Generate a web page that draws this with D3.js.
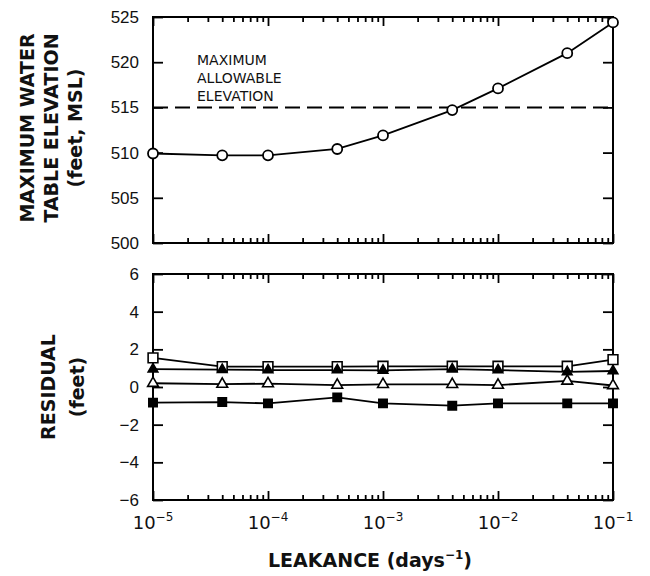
<!DOCTYPE html>
<html>
<head>
<meta charset="utf-8">
<script src="https://cdn.jsdelivr.net/npm/d3@7"></script>
<style>
  body { margin: 0; background: #fff; }
  svg { font-family: "DejaVu Sans", Verdana, sans-serif; }
</style>
</head>
<body>
<svg id="chart" width="650" height="576"></svg>
<script>
// leakance values (days^-1) at which the model was run
var leakance = [1e-5, 4e-5, 1e-4, 4e-4, 1e-3, 4e-3, 1e-2, 4e-2, 1e-1];
var xTicks = [1e-5, 1e-4, 1e-3, 1e-2, 1e-1];
var xExponents = ["\u22125", "\u22124", "\u22123", "\u22122", "\u22121"];

// top panel
var maxElevation = [509.9, 509.7, 509.7, 510.4, 511.9, 514.7, 517.1, 521.0, 524.4];
var allowableElevation = 515;
var elevTicks = [500, 505, 510, 515, 520, 525];

// bottom panel residuals
var residOpenSquare = [1.55, 1.08, 1.08, 1.08, 1.1, 1.1, 1.1, 1.1, 1.45];
var residFilledTriangle = [0.95, 0.92, 0.9, 0.9, 0.88, 0.95, 0.9, 0.8, 0.85];
var residOpenTriangle = [0.2, 0.15, 0.18, 0.1, 0.14, 0.14, 0.1, 0.32, 0.08];
var residFilledSquare = [-0.83, -0.8, -0.87, -0.55, -0.87, -0.99, -0.87, -0.87, -0.87];
var residTicks = [-6, -4, -2, 0, 2, 4, 6];

var left = 153, right = 613;
var svg = d3.select("#chart");

var x = d3.scaleLog().domain([1e-5, 1e-1]).range([left, right]);

var minorTicks = [];
xTicks.slice(0, -1).forEach(function(t) {
  for (var k = 2; k <= 9; k++) minorTicks.push(t * k);
});

function frame(top, bottom, y, yTickVals) {
  var g = svg.append("g");

  // y axes, ticks pointing in
  var yl = g.append("g")
    .attr("transform", "translate(" + left + ",0)")
    .call(d3.axisLeft(y).tickValues(yTickVals).tickSize(-10).tickPadding(14)
      .tickFormat(function(d) { return d < 0 ? "\u2212" + Math.abs(d) : d; }));
  g.append("g")
    .attr("transform", "translate(" + right + ",0)")
    .call(d3.axisRight(y).tickValues(yTickVals).tickSize(-10).tickFormat(""));

  // x axes top & bottom, major + minor
  [[bottom, d3.axisBottom], [top, d3.axisTop]].forEach(function(a) {
    g.append("g")
      .attr("transform", "translate(0," + a[0] + ")")
      .call(a[1](x).tickValues(xTicks).tickSize(-9).tickFormat(""));
    g.append("g")
      .attr("transform", "translate(0," + a[0] + ")")
      .call(a[1](x).tickValues(minorTicks).tickSize(-5).tickFormat(""));
  });

  g.selectAll(".domain").remove();
  g.selectAll(".tick line").attr("stroke", "#000").attr("stroke-width", 1.8);
  yl.selectAll("text")
    .style("font-size", "17px")
    .attr("fill", "#111");

  g.append("rect")
    .attr("x", left).attr("y", top)
    .attr("width", right - left).attr("height", bottom - top)
    .attr("fill", "none").attr("stroke", "#000").attr("stroke-width", 2);
  return g;
}

// ---- top panel ----
var top1 = 17, bot1 = 243;
var yElev = d3.scaleLinear().domain([500, 525]).range([bot1, top1]);
frame(top1, bot1, yElev, elevTicks);

svg.append("line")
  .attr("x1", left).attr("x2", right)
  .attr("y1", yElev(allowableElevation)).attr("y2", yElev(allowableElevation))
  .attr("stroke", "#000").attr("stroke-width", 2)
  .attr("stroke-dasharray", "15,7");

var note = svg.append("text")
  .attr("x", 197).attr("y", 65)
  .style("font-size", "14px").attr("fill", "#111");
["MAXIMUM", "ALLOWABLE", "ELEVATION"].forEach(function(s, i) {
  note.append("tspan").attr("x", 197).attr("dy", i === 0 ? 0 : 18).text(s);
});

var elevPts = leakance.map(function(d, i) { return [d, maxElevation[i]]; });
var lineElev = d3.line().x(function(d) { return x(d[0]); }).y(function(d) { return yElev(d[1]); });
svg.append("path")
  .attr("d", lineElev(elevPts))
  .attr("fill", "none").attr("stroke", "#000").attr("stroke-width", 1.8);
svg.selectAll("circle.elev")
  .data(elevPts)
  .enter()
  .append("circle")
  .attr("class", "elev")
  .attr("cx", function(d) { return x(d[0]); })
  .attr("cy", function(d) { return yElev(d[1]); })
  .attr("r", 5)
  .attr("fill", "#fff").attr("stroke", "#000").attr("stroke-width", 1.8);

// ---- bottom panel ----
var top2 = 274, bot2 = 500;
var yRes = d3.scaleLinear().domain([-6, 6]).range([bot2, top2]);
frame(top2, bot2, yRes, residTicks);

var series = [
  { vals: residOpenSquare, sym: d3.symbolSquare, size: 95, fill: "#fff" },
  { vals: residOpenTriangle, sym: d3.symbolTriangle, size: 50, fill: "#fff" },
  { vals: residFilledTriangle, sym: d3.symbolTriangle, size: 40, fill: "#000" },
  { vals: residFilledSquare, sym: d3.symbolSquare, size: 70, fill: "#000" }
];

var lineRes = d3.line().x(function(d) { return x(d[0]); }).y(function(d) { return yRes(d[1]); });
series.forEach(function(s) {
  var pts = leakance.map(function(d, i) { return [d, s.vals[i]]; });
  svg.append("path")
    .attr("d", lineRes(pts))
    .attr("fill", "none").attr("stroke", "#000").attr("stroke-width", 1.8);
});
series.forEach(function(s) {
  var pts = leakance.map(function(d, i) { return [d, s.vals[i]]; });
  svg.append("g").selectAll("path")
    .data(pts)
    .enter()
    .append("path")
    .attr("d", d3.symbol().type(s.sym).size(s.size))
    .attr("transform", function(d) { return "translate(" + x(d[0]) + "," + yRes(d[1]) + ")"; })
    .attr("fill", s.fill).attr("stroke", "#000").attr("stroke-width", 1.6);
});

// x tick labels (powers of ten)
var xl = svg.append("g").attr("fill", "#111");
xTicks.forEach(function(t, i) {
  var lab = xl.append("text")
    .attr("x", x(t)).attr("y", 529)
    .attr("text-anchor", "middle")
    .style("font-size", "18px");
  lab.append("tspan").text("10");
  lab.append("tspan").attr("dy", -8).style("font-size", "12px").text(xExponents[i]);
});

// axis titles
var xt = svg.append("text")
  .attr("x", 370).attr("y", 567)
  .attr("text-anchor", "middle")
  .style("font-size", "19px").style("font-weight", "bold").attr("fill", "#111");
xt.append("tspan").text("LEAKANCE (days");
xt.append("tspan").attr("dy", -8).style("font-size", "12px").text("\u22121");
xt.append("tspan").attr("dy", 8).text(")");

var t1 = svg.append("text")
  .attr("transform", "translate(0,128) rotate(-90)")
  .attr("text-anchor", "middle")
  .style("font-size", "19px").style("font-weight", "bold").attr("fill", "#111");
[["MAXIMUM WATER", 34], ["TABLE ELEVATION", 58], ["(feet, MSL)", 82]].forEach(function(l) {
  t1.append("tspan").attr("x", 0).attr("y", l[1]).text(l[0]);
});

var t2 = svg.append("text")
  .attr("transform", "translate(0,387) rotate(-90)")
  .attr("text-anchor", "middle")
  .style("font-size", "19px").style("font-weight", "bold").attr("fill", "#111");
[["RESIDUAL", 55], ["(feet)", 84]].forEach(function(l) {
  t2.append("tspan").attr("x", 0).attr("y", l[1]).text(l[0]);
});
</script>
</body>
</html>
